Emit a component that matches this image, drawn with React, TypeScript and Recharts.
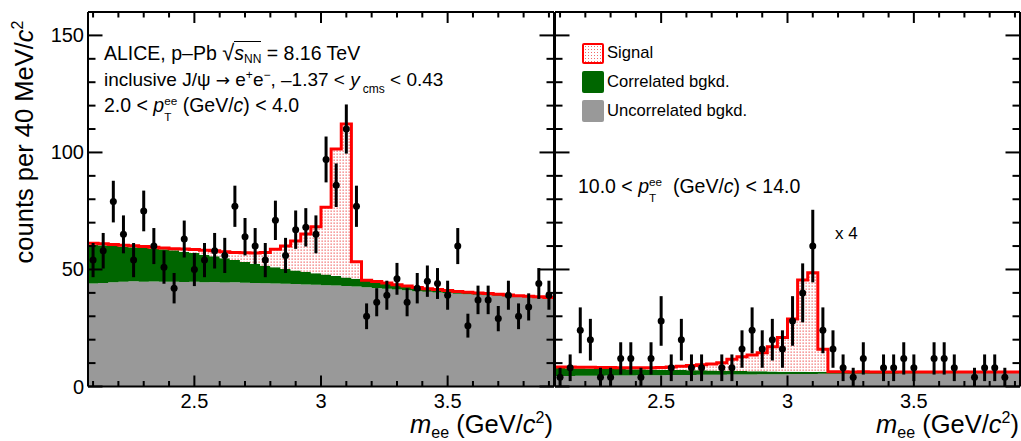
import React from 'react';
import { ComposedChart, Area, Scatter, XAxis, YAxis, ErrorBar, Line } from 'recharts';

const FONT = '"Liberation Sans", Arial, Helvetica, sans-serif';

// ---------- bins (40 MeV) ----------
const binEdges = [2.08,2.12,2.16,2.20,2.24,2.28,2.32,2.36,2.40,2.44,2.48,2.52,2.56,2.60,2.64,2.68,2.72,2.76,2.80,2.84,2.88,2.92,2.96,3.00,3.04,3.08,3.12,3.16,3.20,3.24,3.28,3.32,3.36,3.40,3.44,3.48,3.52,3.56,3.60,3.64,3.68,3.72,3.76,3.80,3.84,3.88,3.92];
const binCenters = [2.10,2.14,2.18,2.22,2.26,2.30,2.34,2.38,2.42,2.46,2.50,2.54,2.58,2.62,2.66,2.70,2.74,2.78,2.82,2.86,2.90,2.94,2.98,3.02,3.06,3.10,3.14,3.18,3.22,3.26,3.30,3.34,3.38,3.42,3.46,3.50,3.54,3.58,3.62,3.66,3.70,3.74,3.78,3.82,3.86,3.90];

// ---------- axis ticks ----------
const xTicks = [2.1,2.2,2.3,2.4,2.5,2.6,2.7,2.8,2.9,3.0,3.1,3.2,3.3,3.4,3.5,3.6,3.7,3.8,3.9];
const xMajor = [2.5, 3.0, 3.5];
const xMajorLabels = ['2.5', '3', '3.5'];
const yTicks = [0,10,20,30,40,50,60,70,80,90,100,110,120,130,140,150];
const yMajor = [0, 50, 100, 150];
const yMajorLabels = ['0', '50', '100', '150'];

// ---------- left panel: 2 < pT < 4 GeV/c ----------
const leftData = [54,58,79,65,54,75,60,51,42,63,50,54,58,56,77,64,60,54,71,56,67,68,65,97,86,110,77,30,36,39,46,36,42,45,44,39,60,26,37,37,29,39,30,34,44,39];
const leftErr = [7.3,7.6,8.9,8.1,7.3,8.7,7.7,7.1,6.5,7.9,7.1,7.3,7.6,7.5,8.8,8.0,7.7,7.3,8.4,7.5,8.2,8.2,8.1,9.8,9.3,10.5,8.8,5.5,6.0,6.2,6.8,6.0,6.5,6.7,6.6,6.2,7.7,5.1,6.1,6.1,5.4,6.2,5.5,5.8,6.6,6.2];
const leftUncorr = [44.0,44.2,44.5,44.8,45.0,44.8,44.9,44.7,44.8,44.6,44.7,44.5,44.6,44.4,44.5,44.3,44.2,44.1,44.0,43.9,43.8,43.6,43.5,43.3,43.1,42.9,42.7,42.4,42.1,41.8,41.4,41.1,40.7,40.5,40.2,39.9,39.6,39.4,39.2,39.0,38.8,38.5,38.3,38.1,37.8,37.6];
const leftCorr = [16.5,16.1,15.5,15.0,14.5,14.5,14.1,13.9,13.4,13.0,12.3,11.8,11.0,10.4,9.5,8.9,8.2,7.5,6.9,6.3,5.8,5.4,4.9,4.5,4.1,3.7,3.3,2.9,2.6,2.2,1.9,1.6,1.4,1.1,1.0,0.9,0.8,0.7,0.6,0.5,0.5,0.5,0.4,0.4,0.4,0.3];
const leftSignal = [0.7,0.7,0.7,0.6,0.6,0.5,0.5,0.6,0.7,1.1,1.5,1.9,2.4,2.8,3.3,3.9,4.6,5.7,7.7,9.8,12.6,16.2,19.9,28.8,54.3,65.6,7.3,0.1,0.2,0.2,0.2,0.2,0.2,0.2,0.2,0.2,0.2,0.2,0.2,0.2,0.1,0.1,0.1,0.1,0.1,0.1];

// ---------- right panel: 10 < pT < 14 GeV/c (scaled x 4) ----------
const rightData = [4,8,24,20,4,4,12,12,4,12,28,8,20,8,8,null,8,8,16,24,16,20,16,28,40,60,24,16,8,4,12,null,8,8,12,8,null,12,12,8,null,4,8,8,4,null];
const rightErr = [4,5.7,9.8,8.9,4,4,6.9,6.9,4,6.9,10.6,5.7,8.9,5.7,5.7,0,5.7,5.7,8,9.8,8,8.9,8,10.6,12.6,15.5,9.8,8,5.7,4,6.9,0,5.7,5.7,6.9,5.7,0,6.9,6.9,5.7,0,4,5.7,5.7,4,0];
const rightUncorr = [4.5,4.5,4.6,4.6,4.6,4.7,4.7,4.7,4.8,4.8,4.8,4.9,4.9,4.9,5.0,5.0,5.0,5.1,5.1,5.1,5.2,5.2,5.2,5.3,5.3,5.3,5.4,5.4,5.4,5.4,5.5,5.5,5.5,5.5,5.6,5.6,5.6,5.6,5.7,5.7,5.7,5.7,5.8,5.8,5.8,5.8];
const rightCorr = [3.4,3.3,3.2,3.1,3.0,2.9,2.8,2.7,2.6,2.5,2.4,2.2,2.1,2.0,1.9,1.8,1.7,1.6,1.5,1.4,1.3,1.2,1.1,1.0,1.0,0.9,0.9,0.8,0.8,0.7,0.7,0.6,0.6,0.6,0.5,0.5,0.5,0.5,0.4,0.4,0.4,0.4,0.3,0.3,0.3,0.3];
const rightSignal = [0.4,0.5,0.4,0.5,0.5,0.5,0.5,0.6,0.6,0.7,0.9,1.2,1.6,2.1,2.4,2.8,3.5,4.9,6.1,7.0,7.9,10.6,14.6,22.5,39.2,42.4,9.6,0.1,0.1,0.1,0.1,0.1,0.1,0.1,0.1,0.1,0.1,0.1,0.1,0.1,0.1,0.1,0.1,0.1,0.1,0.1];

const GRAY = '#999999';
const GREEN = '#006600';
const RED = '#ff0000';

function buildEdges(unc: number[], cor: number[], sig: number[]) {
  return binEdges.map((m, i) => {
    const b = Math.min(i, unc.length - 1);
    return { m, unc: unc[b], cor: cor[b], sig: sig[b] };
  });
}
function buildPoints(vals: (number | null)[], errs: number[]) {
  return binCenters
    .map((m, i) => ({ m, v: vals[i], e: errs[i] }))
    .filter((p) => p.v !== null);
}

const majorIndex = (list: number[], v: number) => list.findIndex((t) => Math.abs(t - v) < 1e-6);

function makeBottomTick(showLabel: boolean) {
  return (props: any) => {
    const { x, y, payload } = props;
    const mi = majorIndex(xMajor, payload.value);
    const len = mi >= 0 ? 11 : 5.5;
    return (
      <g>
        <line x1={x} x2={x} y1={y} y2={y - len} stroke="#000" strokeWidth={2} />
        {showLabel && mi >= 0 && (
          <text x={x} y={y + 21} textAnchor="middle" fontSize={20} fontFamily={FONT} fill="#000">
            {xMajorLabels[mi]}
          </text>
        )}
      </g>
    );
  };
}
const TopTick = (props: any) => {
  const { x, y, payload } = props;
  const len = majorIndex(xMajor, payload.value) >= 0 ? 11 : 5.5;
  return <line x1={x} x2={x} y1={y} y2={y + len} stroke="#000" strokeWidth={2} />;
};
function makeLeftTick(showLabel: boolean) {
  return (props: any) => {
    const { x, y, payload } = props;
    const mi = majorIndex(yMajor, payload.value);
    const len = mi >= 0 ? 14.5 : 7.5;
    return (
      <g>
        <line x1={x} x2={x + len} y1={y} y2={y} stroke="#000" strokeWidth={2} />
        {showLabel && mi >= 0 && (
          <text x={x - 4} y={y + 7} textAnchor="end" fontSize={20} fontFamily={FONT} fill="#000">
            {yMajorLabels[mi]}
          </text>
        )}
      </g>
    );
  };
}
const RightTick = (props: any) => {
  const { x, y, payload } = props;
  const len = majorIndex(yMajor, payload.value) >= 0 ? 14.5 : 7.5;
  return <line x1={x} x2={x - len} y1={y} y2={y} stroke="#000" strokeWidth={2} />;
};

const dotShape = (p: any) => <circle cx={p.cx} cy={p.cy} r={3.5} fill="#000" />;

function Panel(props: {
  id: string; width: number; margin: any; yWidth: number; showY: boolean;
  unc: number[]; cor: number[]; sig: number[]; vals: (number | null)[]; errs: number[];
}) {
  const edges = buildEdges(props.unc, props.cor, props.sig);
  const pts = buildPoints(props.vals, props.errs);
  const axisLine = { stroke: '#000', strokeWidth: 2 };
  return (
    <ComposedChart width={props.width} height={441} data={edges} margin={props.margin}>
      <defs>
        <pattern id={props.id} width={3} height={3} patternUnits="userSpaceOnUse">
          <rect width={3} height={3} fill="#ffffff" />
          <rect x={0.5} y={0.5} width={1.3} height={1.3} fill="#f26a6a" />
        </pattern>
      </defs>
      <XAxis dataKey="m" type="number" domain={[2.08, 3.92]} allowDataOverflow ticks={xTicks} interval={0}
        tickSize={0} tickMargin={0} tickLine={false} tick={makeBottomTick(true)} axisLine={axisLine} height={30} />
      <XAxis xAxisId="top" orientation="top" dataKey="m" type="number" domain={[2.08, 3.92]} allowDataOverflow
        ticks={xTicks} interval={0} tickSize={0} tickMargin={0} tickLine={false} tick={TopTick} axisLine={axisLine} height={1} />
      <YAxis type="number" domain={[0, 160]} allowDataOverflow ticks={yTicks} interval={0} tickSize={0} tickMargin={0}
        tickLine={false} tick={makeLeftTick(props.showY)} axisLine={axisLine} width={props.yWidth} />
      <YAxis yAxisId="right" orientation="right" type="number" domain={[0, 160]} allowDataOverflow ticks={yTicks}
        interval={0} tickSize={0} tickMargin={0} tickLine={false} tick={RightTick} axisLine={axisLine} width={1} />
      <Area type="stepAfter" dataKey="unc" stackId="s" fill={GRAY} fillOpacity={1} stroke="none" dot={false} activeDot={false} isAnimationActive={false} />
      <Area type="stepAfter" dataKey="cor" stackId="s" fill={GREEN} fillOpacity={1} stroke="none" dot={false} activeDot={false} isAnimationActive={false} />
      <Area type="stepAfter" dataKey="sig" stackId="s" fill={`url(#${props.id})`} fillOpacity={1} stroke={RED} strokeWidth={3} dot={false} activeDot={false} isAnimationActive={false} />
      <Line xAxisId="top" yAxisId="right" dataKey="unc" stroke="none" dot={false} activeDot={false} isAnimationActive={false} />
      <Scatter data={pts} dataKey="v" fill="#000" shape={dotShape} isAnimationActive={false}>
        <ErrorBar dataKey="e" direction="y" width={0} stroke="#000" strokeWidth={3} />
      </Scatter>
    </ComposedChart>
  );
}

const S = (p: { fs: number; dy: number; children: any; ml?: number }) => (
  <span style={{ fontSize: p.fs, position: 'relative', top: p.dy, marginLeft: p.ml || 0 }}>{p.children}</span>
);

function PtLabel(p: { fs: number }) {
  // p_T^ee : subscript T and superscript ee stacked
  const small = p.fs * 0.6;
  return (
    <>
      <i>p</i>
      <S fs={small} dy={9}>T</S>
      <S fs={small} dy={-7.4} ml={-0.611 * small}>ee</S>
    </>
  );
}

function Overlay() {
  const F = 19.5;
  const off = 0.8465 * F;
  const base: React.CSSProperties = { position: 'absolute', whiteSpace: 'nowrap', lineHeight: 1, fontSize: F };
  const LF = 16.6;
  const legText: React.CSSProperties = { position: 'absolute', whiteSpace: 'nowrap', lineHeight: 1, fontSize: LF, left: 607 };
  const TF = 25.5;
  const TO = 0.8465 * TF;
  return (
    <div style={{ position: 'absolute', left: 0, top: 0, width: 1021, height: 441, pointerEvents: 'none', fontFamily: FONT, color: '#000' }}>
      <div style={{ ...base, left: 104, top: 58.3 - off }}>
        {'ALICE, p\u2013Pb '}
        <span style={{ fontSize: 22 }}>{'\u221A'}</span>
        <span style={{ borderTop: '1.5px solid #000' }}>
          <i>s</i>
          <S fs={12} dy={3.5}>NN</S>
        </span>
        {' = 8.16 TeV'}
      </div>
      <div style={{ ...base, fontSize: 19, left: 104, top: 86 - 0.8465 * 19 }}>
        {'inclusive J/\u03C8 '}
        <span style={{ fontFamily: '"DejaVu Sans", sans-serif', fontSize: 17 }}>{'\u2192'}</span>
        {' e'}
        <S fs={12} dy={-7}>+</S>
        {'e'}
        <S fs={12} dy={-7}>{'\u2212'}</S>
        {', \u20131.37 < '}
        <i>y</i>
        <S fs={12} dy={7} ml={3}>cms</S>
        {' < 0.43'}
      </div>
      <div style={{ ...base, left: 104, top: 112.7 - off }}>
        {'2.0 < '}
        <PtLabel fs={F} />
        {' (GeV/'}
        <i>c</i>
        {') < 4.0'}
      </div>

      <div style={{ ...base, left: 578, top: 194 - off }}>
        {'10.0 < '}
        <PtLabel fs={F} />
        {'\u00A0 (GeV/'}
        <i>c</i>
        {') < 14.0'}
      </div>
      <div style={{ ...base, fontSize: 17, left: 835, top: 239 - 0.8465 * 17 }}>x 4</div>

      {/* legend */}
      <div style={{ position: 'absolute', left: 582, top: 43, width: 22, height: 20.5, boxSizing: 'border-box', border: `2.5px solid ${RED}`, borderRadius: 2,
        background: 'radial-gradient(circle, #f26a6a 0.8px, transparent 0.9px) 0 0 / 3px 3px, #ffffff' }} />
      <div style={{ ...legText, top: 59 - 0.8465 * LF }}>Signal</div>
      <div style={{ position: 'absolute', left: 582, top: 71, width: 22, height: 21.5, background: GREEN, borderRadius: 2 }} />
      <div style={{ ...legText, top: 88 - 0.8465 * LF }}>Correlated bgkd.</div>
      <div style={{ position: 'absolute', left: 582, top: 100, width: 22, height: 21.5, background: GRAY, borderRadius: 2 }} />
      <div style={{ ...legText, top: 116.7 - 0.8465 * LF }}>Uncorrelated bgkd.</div>

      {/* axis titles */}
      <div style={{ position: 'absolute', left: 33.5 - TO, top: 291.5, width: 300, textAlign: 'center', transform: 'rotate(-90deg)', transformOrigin: '0 0', fontSize: TF, lineHeight: 1, whiteSpace: 'nowrap' }}>
        {'counts per 40 MeV/'}
        <i>c</i>
        <S fs={16} dy={-10}>2</S>
      </div>
      {[553, 1019].map((r) => (
        <div key={r} style={{ position: 'absolute', right: 1021 - r, top: 433.5 - TO, fontSize: TF, lineHeight: 1, whiteSpace: 'nowrap', textAlign: 'right' }}>
          <i>m</i>
          <S fs={16} dy={5}>ee</S>
          {' (GeV/'}
          <i>c</i>
          <S fs={16} dy={-10}>2</S>
          {')'}
        </div>
      ))}
    </div>
  );
}

export default function App() {
  return (
    <div style={{ position: 'absolute', left: 0, top: 0, width: 1021, height: 441, background: '#fff', overflow: 'hidden' }}>
      <div style={{ position: 'absolute', left: 0, top: 0 }}>
        <Panel id="dotsL" width={557} margin={{ top: 11, right: 2, bottom: 24.5, left: 48 }} yWidth={40} showY={true}
          unc={leftUncorr} cor={leftCorr} sig={leftSignal} vals={leftData} errs={leftErr} />
      </div>
      <div style={{ position: 'absolute', left: 520, top: 0 }}>
        <Panel id="dotsR" width={501} margin={{ top: 11, right: 0, bottom: 24.5, left: 34 }} yWidth={1} showY={false}
          unc={rightUncorr} cor={rightCorr} sig={rightSignal} vals={rightData} errs={rightErr} />
      </div>
      <Overlay />
    </div>
  );
}
